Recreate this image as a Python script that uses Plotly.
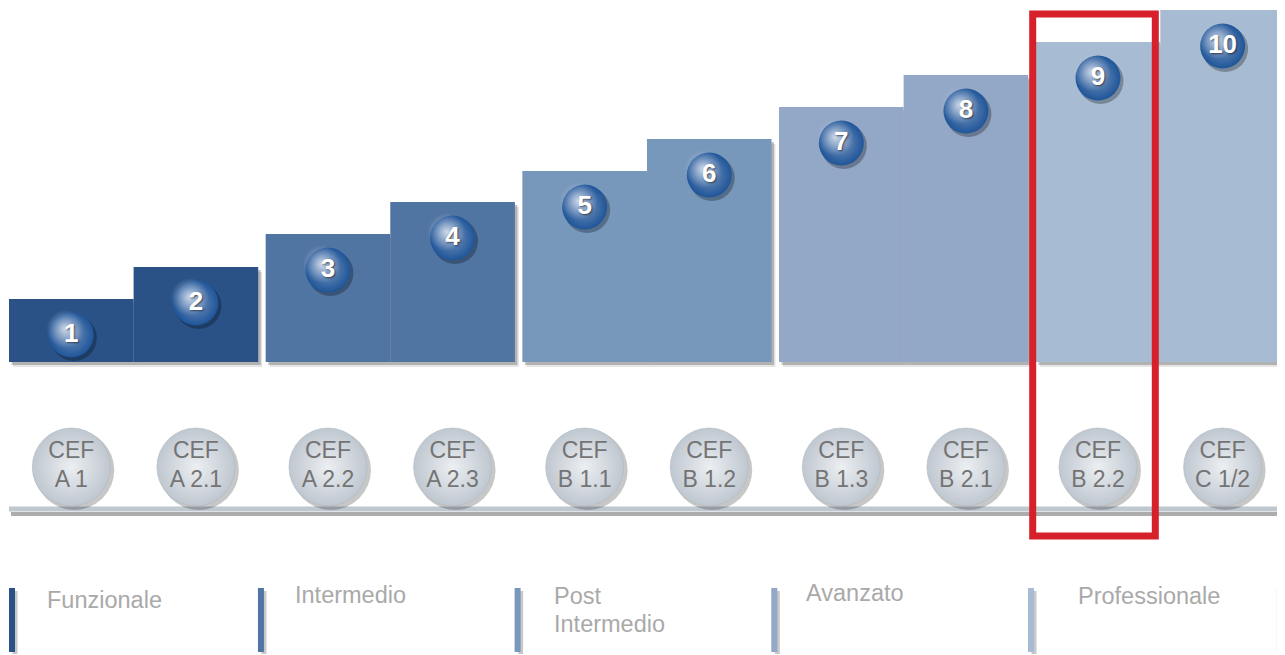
import plotly.graph_objects as go

# ---------------- data ----------------
levels = ["1", "2", "3", "4", "5", "6", "7", "8", "9", "10"]
heights = [63, 95, 128, 160, 191, 223, 255, 287, 320, 352]
cef_top = ["CEF"] * 10
cef_codes = ["A 1", "A 2.1", "A 2.2", "A 2.3", "B 1.1", "B 1.2", "B 1.3", "B 2.1", "B 2.2", "C 1/2"]
stages = ["Funzionale", "Intermedio", "Post\nIntermedio", "Avanzato", "Professionale"]
highlight_index = 8  # CEF B 2.2

# ---------------- styling ----------------
pair_colors = ["#2a5287", "#5175a3", "#7898bb", "#93a7c7", "#a7bcd3"]
GAP = 0.06            # gap between level pairs (bar-width units)
PX_X = 124.6          # pixels per bar-width unit
FONT = "Liberation Sans, Arial, Helvetica, sans-serif"
PAGE_MARGIN = 8       # default body margin of the html page

n = len(levels)
lefts = [i + GAP * (i // 2) for i in range(n)]
centers = [l + 0.5 for l in lefts]
colors = [pair_colors[i // 2] for i in range(n)]

def dx(px):
    return px / PX_X

fig = go.Figure()

# bar shadows
fig.add_trace(go.Bar(x=[c + dx(4) for c in centers], y=heights, base=-5, width=1,
                     marker=dict(color="rgba(0,0,0,0.10)", line_width=0), hoverinfo="skip"))
fig.add_trace(go.Bar(x=[c + dx(2.5) for c in centers], y=heights, base=-3, width=1,
                     marker=dict(color="rgba(0,0,0,0.22)", line_width=0), hoverinfo="skip"))
# bars
fig.add_trace(go.Bar(x=centers, y=heights, base=0, width=1,
                     marker=dict(color=colors, line_width=0), hoverinfo="skip"))

# numbered spheres
sy = [h - 36 for h in heights]
fig.add_trace(go.Scatter(x=[c + dx(2.5) for c in centers], y=[v - 3 for v in sy], mode="markers",
                         marker=dict(size=46, color="rgba(0,0,0,0.28)", line_width=0), hoverinfo="skip"))
fig.add_trace(go.Scatter(x=centers, y=sy, mode="markers",
                         marker=dict(size=45, color="#1e5599", line=dict(width=0),
                                     gradient=dict(type="radial", color="#7491bb")),
                         hoverinfo="skip"))
fig.add_trace(go.Scatter(x=[c - dx(6) for c in centers], y=[v + 6 for v in sy], mode="markers",
                         marker=dict(size=38, color="rgba(170,188,214,0)", line=dict(width=0),
                                     gradient=dict(type="radial", color="rgba(212,221,236,0.97)")),
                         hoverinfo="skip"))
fig.add_trace(go.Scatter(x=centers, y=sy, mode="text", text=levels,
                         textfont=dict(family=FONT, size=26, color="white", weight="bold",
                                       shadow="1px 1px 2px rgba(0,0,0,0.55)"),
                         textposition="middle center", hoverinfo="skip"))

# CEF circles
cy = -105
fig.add_trace(go.Scatter(x=[c + dx(3) for c in centers], y=[cy - 3] * n, mode="markers",
                         marker=dict(size=80, color="rgba(0,0,0,0.22)", line_width=0), hoverinfo="skip"))
fig.add_trace(go.Scatter(x=centers, y=[cy] * n, mode="markers",
                         marker=dict(size=78, color="#bfc7d0", line=dict(width=0.6, color="#b0b8c0"),
                                     gradient=dict(type="radial", color="#eceff2")),
                         hoverinfo="skip"))
fig.add_trace(go.Scatter(x=centers, y=[cy + 15] * n, mode="text", text=cef_top,
                         textfont=dict(family=FONT, size=23, color="#747474"),
                         textposition="middle center", hoverinfo="skip"))
fig.add_trace(go.Scatter(x=centers, y=[cy - 14] * n, mode="text", text=cef_codes,
                         textfont=dict(family=FONT, size=23, color="#747474"),
                         textposition="middle center", hoverinfo="skip"))

shapes = []
x_start = lefts[0]
x_end = lefts[-1] + 1
# baseline with shadow
shapes.append(dict(type="line", x0=x_start + dx(2), x1=x_end, y0=-152, y1=-152,
                   line=dict(color="rgba(70,70,70,0.45)", width=4), layer="below"))
shapes.append(dict(type="line", x0=x_start, x1=x_end, y0=-147, y1=-147,
                   line=dict(color="#bfc7cf", width=5), layer="below"))

# stage markers (first at the left edge, then in the gaps between pairs, last at the right end)
bx = [lefts[0] + dx(3)] + [lefts[2 * k] - GAP / 2 - dx(1) for k in range(1, len(stages))] + [x_end - dx(5)]
bcol = pair_colors + [pair_colors[-1]]
for x, col in zip(bx, bcol):
    shapes.append(dict(type="line", x0=x + dx(3), x1=x + dx(3), y0=-229, y1=-292,
                       line=dict(color="rgba(0,0,0,0.22)", width=5)))
    shapes.append(dict(type="line", x0=x, x1=x, y0=-226, y1=-290,
                       line=dict(color=col, width=6)))

# highlight frame
hl = lefts[highlight_index]
shapes.append(dict(type="rect", x0=hl - dx(3), x1=hl + 1 - dx(5), y0=-174, y1=348,
                   line=dict(color="#d7212a", width=7), fillcolor="rgba(0,0,0,0)"))

annotations = []
label_dx = [33, 32, 34, 30, 45]
label_dy = [-238, -233, -234, -231, -234]
for k, s in enumerate(stages):
    for j, line in enumerate(s.split("\n")):
        annotations.append(dict(x=bx[k] + dx(label_dx[k]), y=label_dy[k] - 28 * j, text=line,
                                xanchor="left", yanchor="middle", showarrow=False,
                                font=dict(family=FONT, size=23.5, color="#a9a9a9")))

W, H = 1285 - PAGE_MARGIN, 655 - PAGE_MARGIN
x0 = -dx(9 - PAGE_MARGIN)
y_top = 362 - PAGE_MARGIN
fig.update_layout(
    width=W, height=H,
    margin=dict(l=0, r=0, t=0, b=0),
    paper_bgcolor="white", plot_bgcolor="white",
    barmode="overlay", showlegend=False,
    xaxis=dict(range=[x0, x0 + dx(W)], visible=False, fixedrange=True),
    yaxis=dict(range=[y_top - H, y_top], visible=False, fixedrange=True),
    shapes=shapes, annotations=annotations,
)

fig.write_html("out.html", config={"displayModeBar": False})
